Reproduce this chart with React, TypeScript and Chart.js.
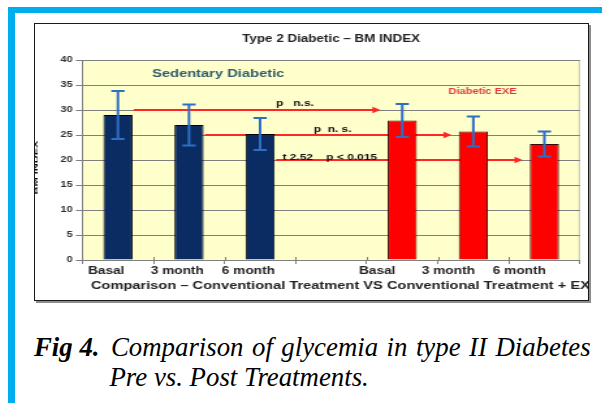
import { useEffect, useRef } from 'react';
import { Chart, registerables } from 'chart.js';

Chart.register(...registerables);

// BMI per group and time point (mean and standard deviation)
const categories = ['Basal', '3 month', '6 month', '', 'Basal', '3 month', '6 month'];
const sedentaryBmi = [29, 27, 25.2, null, null, null, null];
const sedentarySd = [4.8, 4.1, 3.2, null, null, null, null];
const exerciseBmi = [null, null, null, null, 27.9, 25.7, 23.2];
const exerciseSd = [null, null, null, null, 3.3, 3.0, 2.5];

const yMin = 0;
const yMax = 40;
const yStep = 5;

// Paired comparisons: sedentary bar -> exercise bar
const compareFrom = [0, 1, 2];
const compareTo = [4, 5, 6];
const compareLevel = [30, 25, 20];
const compareText = ['p   n.s.', 'p  n. s.', 't 2.52    p < 0.015'];

const chartTitle = 'Type 2 Diabetic \u2013 BM INDEX';
const xTitle = 'Comparison \u2013 Conventional Treatment VS Conventional Treatment + EXE';
const yTitle = 'BM INDEX';

const FONT = "'Liberation Sans', Arial, Helvetica, sans-serif";
const CANVAS_W = 425;
const CANVAS_H = 276;
const STRETCH = 553 / CANVAS_W;

const drawErrors = (chart: any, dsIndex: number, values: (number | null)[], errs: (number | null)[]) => {
  const { ctx } = chart;
  const meta = chart.getDatasetMeta(dsIndex);
  const y = chart.scales.y;
  ctx.save();
  ctx.strokeStyle = '#2E6EC6';
  ctx.lineWidth = 2;
  values.forEach((v, i) => {
    const e = errs[i];
    if (v == null || e == null) return;
    const x = meta.data[i].x;
    const top = y.getPixelForValue(v + e);
    const bot = y.getPixelForValue(v - e);
    ctx.beginPath();
    ctx.moveTo(x, top);
    ctx.lineTo(x, bot);
    ctx.moveTo(x - 5.1, top);
    ctx.lineTo(x + 5.1, top);
    ctx.moveTo(x - 5.1, bot);
    ctx.lineTo(x + 5.1, bot);
    ctx.stroke();
  });
  ctx.restore();
};

const plotDecor = {
  id: 'plotDecor',
  beforeDraw(chart: any) {
    const { ctx, chartArea: a } = chart;
    ctx.save();
    ctx.fillStyle = '#FFFFCC';
    ctx.fillRect(a.left, a.top, a.right - a.left, a.bottom - a.top);
    ctx.strokeStyle = '#c4c4b0';
    ctx.lineWidth = 1;
    ctx.beginPath();
    ctx.moveTo(a.right - 0.5, a.top);
    ctx.lineTo(a.right - 0.5, a.bottom);
    ctx.stroke();
    ctx.restore();
  },
  beforeDatasetsDraw(chart: any) {
    const { ctx } = chart;
    const y = chart.scales.y;
    const fromMeta = chart.getDatasetMeta(0);
    const toMeta = chart.getDatasetMeta(1);
    ctx.save();
    ctx.strokeStyle = '#FF2626';
    ctx.fillStyle = '#FF2626';
    ctx.lineWidth = 2;
    compareFrom.forEach((fi, k) => {
      const a = fromMeta.data[fi];
      const b = toMeta.data[compareTo[k]];
      const yy = y.getPixelForValue(compareLevel[k]);
      const x0 = a.x + a.width / 2 + 1;
      const tip = b.x - b.width / 2 - 5.5;
      const head = 6.2;
      ctx.beginPath();
      ctx.moveTo(x0, yy);
      ctx.lineTo(tip - head + 0.5, yy);
      ctx.stroke();
      ctx.beginPath();
      ctx.moveTo(tip, yy);
      ctx.lineTo(tip - head, yy - 3.2);
      ctx.lineTo(tip - head, yy + 3.2);
      ctx.closePath();
      ctx.fill();
    });
    ctx.restore();
  },
  afterDatasetsDraw(chart: any) {
    const { ctx, chartArea: a } = chart;
    const x = chart.scales.x;
    const y = chart.scales.y;

    drawErrors(chart, 0, sedentaryBmi, sedentarySd);
    drawErrors(chart, 1, exerciseBmi, exerciseSd);

    ctx.save();
    // small cross ticks on the category axis
    ctx.strokeStyle = '#808080';
    ctx.lineWidth = 1;
    for (let i = 1; i < categories.length; i++) {
      const px = Math.round(x.getPixelForValue(i - 0.5)) + 0.5;
      ctx.beginPath();
      ctx.moveTo(px, a.bottom);
      ctx.lineTo(px, a.bottom - 3);
      ctx.stroke();
    }

    // comparison notes (category position, baseline value)
    const noteSpots = [
      [2.49, 30.9],
      [3.02, 25.7],
      [2.98, 20.1],
    ];
    ctx.fillStyle = '#111';
    ctx.font = `bold 9.2px ${FONT}`;
    ctx.textAlign = 'center';
    ctx.textBaseline = 'alphabetic';
    compareText.forEach((t, k) => {
      ctx.fillText(t, x.getPixelForValue(noteSpots[k][0]), y.getPixelForValue(noteSpots[k][1]));
    });

    // group names inside the plot
    ctx.textBaseline = 'middle';
    ctx.fillStyle = '#2F5D6E';
    ctx.font = `bold 11.3px ${FONT}`;
    ctx.fillText(chart.data.datasets[0].label, x.getPixelForValue(1.41), y.getPixelForValue(37.2));
    ctx.fillStyle = '#E33B3B';
    ctx.font = `bold 8.5px ${FONT}`;
    ctx.fillText(chart.data.datasets[1].label, x.getPixelForValue(5.13), y.getPixelForValue(33.7));
    ctx.restore();
  },
  afterDraw(chart: any) {
    const { ctx, chartArea: a } = chart;
    ctx.save();
    // category axis title, running past the right edge
    ctx.fillStyle = '#222';
    ctx.font = `bold 11.25px ${FONT}`;
    ctx.textAlign = 'left';
    ctx.textBaseline = 'middle';
    ctx.fillText(xTitle, a.left + 6.5, 261.8);

    // value axis title, narrow and rotated
    ctx.translate(1.4, 143.5);
    ctx.rotate(-Math.PI / 2);
    ctx.scale(1, 0.32);
    ctx.fillStyle = '#111';
    ctx.font = `bold 11px ${FONT}`;
    ctx.textAlign = 'center';
    ctx.textBaseline = 'middle';
    ctx.fillText(yTitle, 0, 0);
    ctx.restore();
  },
};

export default function App() {
  const ref = useRef<HTMLCanvasElement>(null);

  useEffect(() => {
    if (!ref.current) return;
    Chart.defaults.font.family = FONT;
    const chart = new Chart(ref.current, {
      type: 'bar',
      data: {
        labels: categories,
        datasets: [
          {
            label: 'Sedentary Diabetic',
            data: sedentaryBmi,
            backgroundColor: '#0B2C63',
            borderColor: '#000',
            borderWidth: 1,
            grouped: false,
            barPercentage: 0.41,
            categoryPercentage: 1,
          },
          {
            label: 'Diabetic EXE',
            data: exerciseBmi,
            backgroundColor: '#FF0000',
            borderColor: '#3a0a0a',
            borderWidth: 1,
            grouped: false,
            barPercentage: 0.41,
            categoryPercentage: 1,
          },
        ],
      } as any,
      options: {
        responsive: false,
        animation: false,
        devicePixelRatio: 1,
        layout: { padding: { left: 0, right: 6.2, top: 0, bottom: 0 } },
        plugins: {
          legend: { display: false },
          tooltip: { enabled: false },
          title: {
            display: true,
            text: chartTitle,
            fullSize: false,
            color: '#222',
            font: { family: FONT, size: 10.3, weight: 'bold' },
            padding: { top: 9.3, bottom: 14.34 },
          },
        },
        scales: {
          x: {
            offset: true,
            grid: {
              display: true,
              drawOnChartArea: false,
              drawTicks: true,
              tickLength: 4,
              color: '#808080',
              offset: true,
            },
            border: { color: '#808080' },
            ticks: {
              font: { family: FONT, size: 10.5, weight: 'bold' },
              color: '#222',
              padding: 1.2,
              labelOffset: -9,
              maxRotation: 0,
              autoSkip: false,
              callback: (_v: any, i: number) => (i >= 4 ? categories[i] + '       ' : categories[i]),
            },
            afterFit: (s: any) => {
              s.height = 40;
            },
          },
          y: {
            min: yMin,
            max: yMax,
            ticks: {
              stepSize: yStep,
              font: { family: FONT, size: 8.5, weight: 'bold' },
              color: '#333',
              padding: 2.4,
            },
            grid: { color: '#7f7f7f', tickLength: 5, drawTicks: true },
            border: { color: '#808080' },
            afterFit: (s: any) => {
              s.width = 36.43;
            },
          },
        },
      } as any,
      plugins: [plotDecor],
    });
    return () => chart.destroy();
  }, []);

  const blue = '#00AEEF';
  const serif = "'Liberation Serif', 'Times New Roman', serif";
  const captionLine = {
    position: 'absolute' as const,
    fontFamily: serif,
    fontSize: 26.8,
    lineHeight: '30px',
    fontStyle: 'italic',
    color: '#000',
    whiteSpace: 'nowrap' as const,
  };

  return (
    <div
      style={{
        position: 'fixed',
        left: 0,
        top: 0,
        width: 602,
        height: 403,
        background: '#fff',
        overflow: 'hidden',
      }}
    >
      <div style={{ position: 'absolute', left: 8, top: 7, width: 594, height: 6, background: blue }} />
      <div style={{ position: 'absolute', left: 8, top: 7, width: 7, height: 396, background: blue }} />

      <div
        style={{
          position: 'absolute',
          left: 34,
          top: 23,
          width: 553,
          height: CANVAS_H,
          border: '1px solid #1a1a1a',
          boxShadow: '2px 2px 0 #8c8c8c',
          background: '#fff',
          overflow: 'hidden',
        }}
      >
        <div style={{ width: CANVAS_W, height: CANVAS_H, transform: `scaleX(${STRETCH})`, transformOrigin: '0 0' }}>
          <canvas ref={ref} width={CANVAS_W} height={CANVAS_H} />
        </div>
      </div>

      <div style={{ ...captionLine, left: 34, top: 331.6, fontWeight: 'bold' }}>Fig 4.</div>
      <div style={{ ...captionLine, left: 111, top: 331.6, wordSpacing: '1.8px' }}>
        Comparison of glycemia in type II Diabetes
      </div>
      <div style={{ ...captionLine, left: 109.5, top: 362 }}>Pre vs. Post Treatments.</div>
    </div>
  );
}
